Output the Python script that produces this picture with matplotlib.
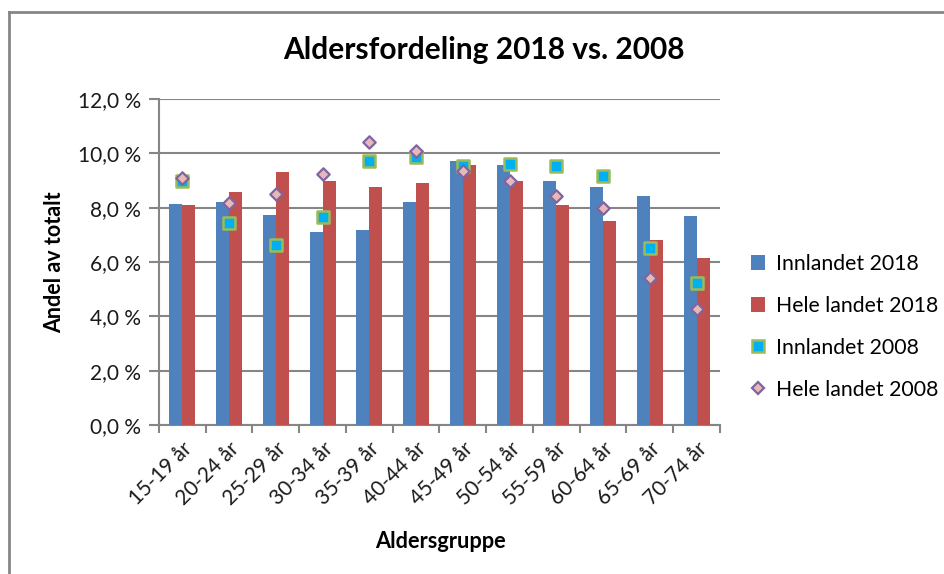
import matplotlib
matplotlib.use("Agg")
import matplotlib.pyplot as plt
import numpy as np
from matplotlib.ticker import FuncFormatter, FixedLocator
from matplotlib.lines import Line2D
from matplotlib.patches import Patch

categories = ["15-19 år", "20-24 år", "25-29 år", "30-34 år", "35-39 år", "40-44 år",
              "45-49 år", "50-54 år", "55-59 år", "60-64 år", "65-69 år", "70-74 år"]
innlandet_2018 = [8.12, 8.20, 7.72, 7.09, 7.18, 8.20, 9.73, 9.56, 8.99, 8.77, 8.44, 7.70]
hele_2018 = [8.09, 8.58, 9.32, 8.99, 8.77, 8.90, 9.56, 8.99, 8.09, 7.50, 6.80, 6.14]
innlandet_2008 = [8.99, 7.43, 6.61, 7.64, 9.70, 9.87, 9.52, 9.62, 9.52, 9.15, 6.53, 5.22]
hele_2008 = [9.08, 8.17, 8.49, 9.24, 10.43, 10.10, 9.34, 8.97, 8.42, 7.98, 5.41, 4.26]
series_names = ["Innlandet 2018", "Hele landet 2018", "Innlandet 2008", "Hele landet 2008"]

plt.rcParams['font.family'] = ['Lato', 'DejaVu Sans']

W, H = 945, 574
fig = plt.figure(figsize=(W / 100, H / 100), dpi=100)
ax = fig.add_axes([159 / W, 1 - 425 / H, (720 - 159) / W, (425 - 99) / H])

grid_c = "#868686"
x = np.arange(len(categories))
bw = 0.28
ax.bar(x - bw / 2, innlandet_2018, width=bw, color="#4F81BD", zorder=3)
ax.bar(x + bw / 2, hele_2018, width=bw, color="#C0504D", zorder=3)
ax.scatter(x, innlandet_2008, marker="s", s=70, facecolor="#00B0F0", edgecolor="#9BBB59",
           linewidth=1.8, zorder=4)
ax.scatter(x, hele_2008, marker="D", s=40, facecolor="#E6B9B8", edgecolor="#8064A2",
           linewidth=1.6, zorder=5)

ax.set_xlim(-0.5, len(categories) - 0.5)
ax.set_ylim(0, 12)
ax.set_yticks(np.arange(0, 12.1, 2))
ax.yaxis.set_major_formatter(FuncFormatter(lambda v, p: f"{v:.1f} %".replace(".", ",")))
ax.grid(axis="y", color=grid_c, linewidth=1.5, zorder=0)
ax.set_axisbelow(True)

ax.set_xticks(x)
ax.set_xticklabels(categories, rotation=45, ha="right", va="top", rotation_mode="anchor",
                   fontsize=15, color="#1a1a1a")
ax.tick_params(axis="x", which="major", length=0, pad=10)
ax.xaxis.set_minor_locator(FixedLocator(np.arange(-0.5, len(categories), 1.0)))
ax.tick_params(axis="x", which="minor", length=6, width=1.5, color=grid_c)
ax.tick_params(axis="y", length=7, width=1.5, color=grid_c, labelsize=15, labelcolor="#1a1a1a", pad=6)

for s in ["top", "right"]:
    ax.spines[s].set_visible(False)
for s in ["left", "bottom"]:
    ax.spines[s].set_color(grid_c)
    ax.spines[s].set_linewidth(1.5)

fig.text(484 / W, 1 - 50 / H, "Aldersfordeling 2018 vs. 2008", ha="center", va="center",
         fontsize=21.5, fontweight="bold", color="#000000")
fig.text(440 / W, 1 - 541 / H, "Aldersgruppe", ha="center", va="center",
         fontsize=15.7, fontweight="bold", color="#000000")
fig.text(55 / W, 1 - 262 / H, "Andel av totalt", ha="center", va="center", rotation=90,
         fontsize=15.5, fontweight="bold", color="#000000")

handles = [
    Patch(facecolor="#4F81BD"),
    Patch(facecolor="#C0504D"),
    Line2D([], [], marker="s", linestyle="none", markersize=8, markerfacecolor="#00B0F0",
           markeredgecolor="#9BBB59", markeredgewidth=1.8),
    Line2D([], [], marker="D", linestyle="none", markersize=6.5, markerfacecolor="#E6B9B8",
           markeredgecolor="#8064A2", markeredgewidth=1.6),
]
fig.legend(handles, series_names, loc="upper left", bbox_to_anchor=(751 / W, 1 - 254 / H),
           frameon=False, fontsize=15.3, handlelength=0.65, handleheight=0.7, handletextpad=0.55,
           labelspacing=1.03, borderaxespad=0, borderpad=0)

# outer chart border
fig.add_artist(Line2D([9 / W, 9 / W], [0, 1 - 12 / H], color=grid_c, linewidth=2, transform=fig.transFigure))
fig.add_artist(Line2D([9 / W, 1], [1 - 12 / H, 1 - 12 / H], color=grid_c, linewidth=2, transform=fig.transFigure))

fig.savefig("out.png", dpi=100)
